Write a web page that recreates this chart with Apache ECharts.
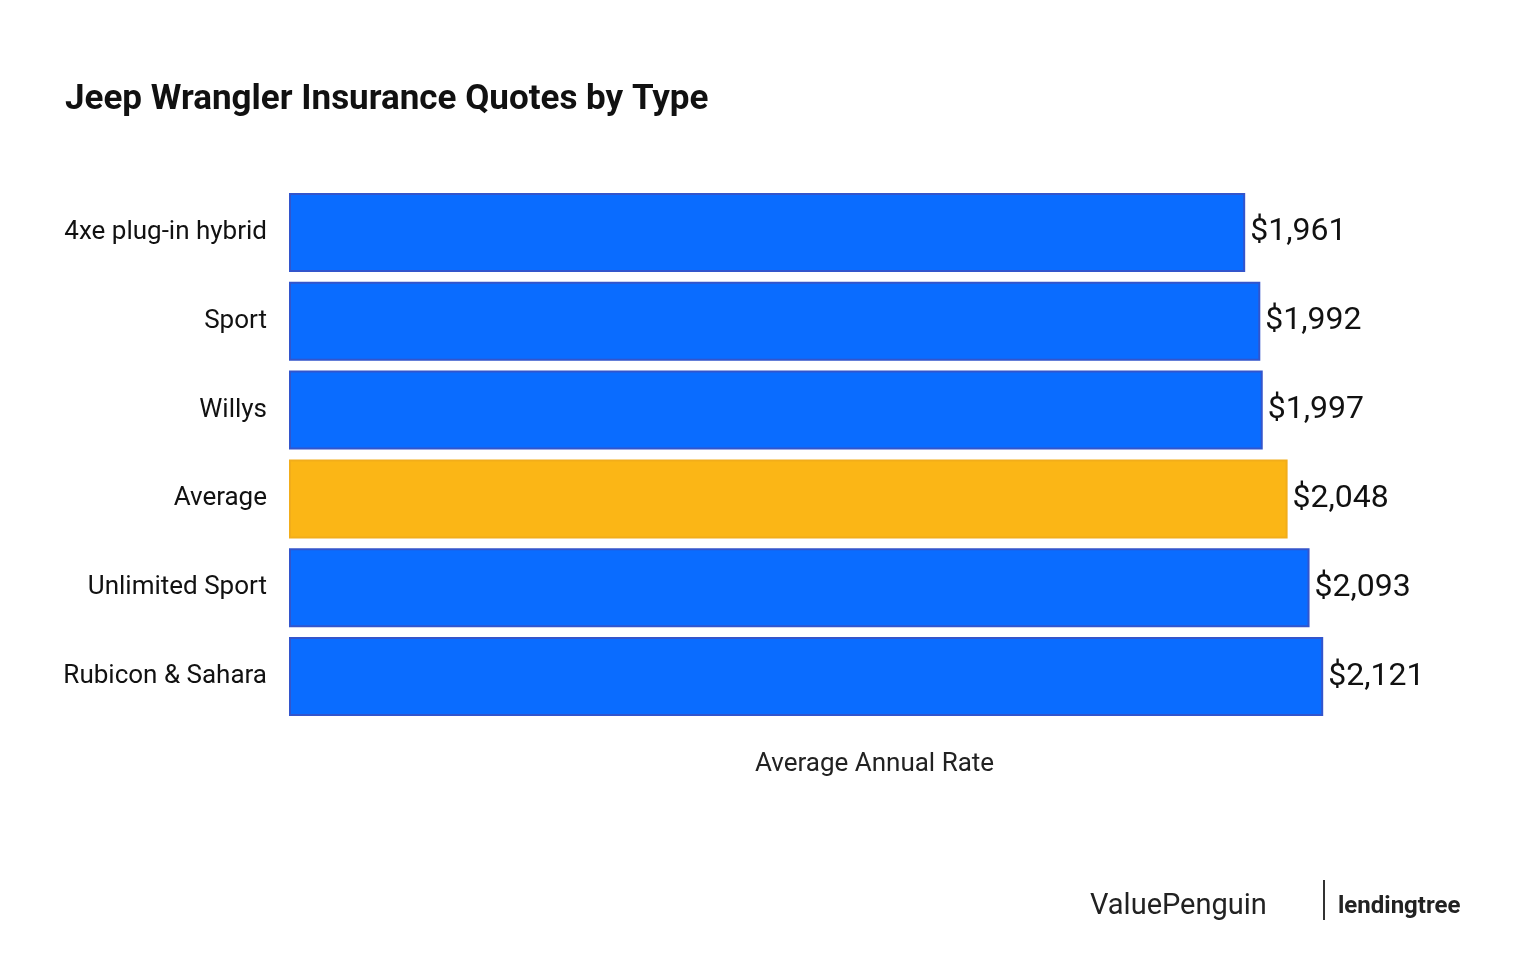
<!DOCTYPE html>
<html>
<head>
<meta charset="utf-8">
<script src="https://cdn.jsdelivr.net/npm/echarts@6/dist/echarts.min.js"></script>
<style>html,body{margin:0;background:#fff}#main{width:1520px;height:958px}</style>
</head>
<body>
<div id="main"></div>
<script>
const categories = ['4xe plug-in hybrid', 'Sport', 'Willys', 'Average', 'Unlimited Sport', 'Rubicon & Sahara']
const rates = [1961, 1992, 1997, 2048, 2093, 2121]
const highlight = 'Average'

const chart = echarts.init(document.getElementById('main'))
chart.setOption({
    animation: false,
    title: {
        text: 'Jeep Wrangler Insurance Quotes by Type',
        left: 60, top: 78,
        textStyle: { fontFamily: 'Roboto', fontWeight: 'bold', fontSize: 35, color: '#111' }
    },
    grid: { left: 289, right: 12, top: 188, height: 533 },
    xAxis: {
        type: 'value', min: 0, max: 2500,
        name: 'Average Annual Rate', nameLocation: 'middle', nameGap: 30,
        nameTextStyle: { fontFamily: 'Roboto', fontSize: 26, color: '#222', padding: [0, 48, 0, 0] },
        axisLabel: { show: false }, axisLine: { show: false }, axisTick: { show: false },
        splitLine: { show: false }
    },
    yAxis: {
        type: 'category', inverse: true, data: categories,
        axisLine: { show: false }, axisTick: { show: false },
        axisLabel: { fontFamily: 'Roboto', fontSize: 26, color: '#111', margin: 22 }
    },
    series: [{
        type: 'bar',
        barCategoryGap: '11%',
        data: rates.map((v, i) => ({
            value: v,
            itemStyle: categories[i] === highlight
                ? { color: '#fbb616', borderColor: '#f2ad1a', borderWidth: 2 }
                : { color: '#0a6cff', borderColor: '#3355cc', borderWidth: 2 }
        })),
        label: {
            show: true, position: 'right', distance: 5,
            fontFamily: 'Roboto', fontSize: 32, color: '#111',
            formatter: p => '$' + p.value.toLocaleString('en-US')
        }
    }],
    graphic: [
        { type: 'text', left: 1090, top: 892, style: { text: 'ValuePenguin', font: '29px Roboto', fill: '#222' } },
        { type: 'rect', shape: { x: 1323, y: 880, width: 2, height: 40 }, style: { fill: '#333' } },
        { type: 'text', left: 1338, top: 895, style: { text: 'lendingtree', font: 'bold 24px Roboto', fill: '#222' } }
    ]
})
</script>
</body>
</html>
